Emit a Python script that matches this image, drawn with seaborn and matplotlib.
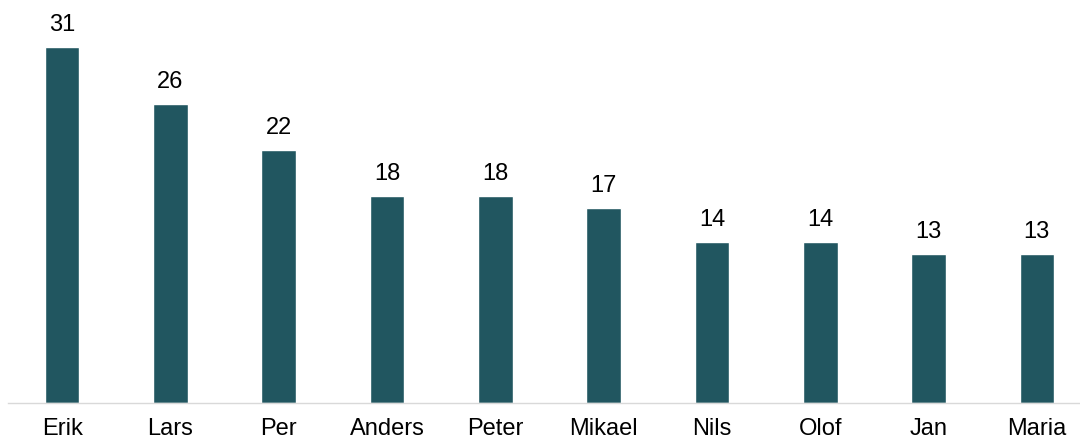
"""Vanligaste namn - stapeldiagram."""
import matplotlib
matplotlib.use("Agg")
import matplotlib.pyplot as plt
import seaborn as sns
import pandas as pd

names = ["Erik", "Lars", "Per", "Anders", "Peter", "Mikael", "Nils", "Olof", "Jan", "Maria"]
counts = [31, 26, 22, 18, 18, 17, 14, 14, 13, 13]

df = pd.DataFrame({"name": names, "count": counts})

sns.set_style("white")
plt.rcParams["font.family"] = ["Liberation Sans", "DejaVu Sans"]

fig = plt.figure(figsize=(10.8, 4.44), dpi=100)
ax = fig.add_axes([8 / 1080, 41 / 444, 1083 / 1080, 402 / 444])

sns.barplot(data=df, x="name", y="count", color="#215660", width=0.32,
            saturation=1, ax=ax)

for i, v in enumerate(counts):
    ax.annotate(str(v), (i, v), xytext=(0, 11.5), textcoords="offset points",
                ha="center", va="baseline", fontsize=17, color="black")

ax.set_xlim(-0.5, 9.5)
ax.set_ylim(0, 35)
ax.set_xlabel("")
ax.set_ylabel("")
ax.set_yticks([])
ax.tick_params(axis="x", length=0, pad=11, labelsize=17, colors="black")
for s in ["top", "right", "left"]:
    ax.spines[s].set_visible(False)
ax.spines["bottom"].set_color("#d9d9d9")
ax.spines["bottom"].set_linewidth(1)

fig.savefig("out.png", dpi=100)
